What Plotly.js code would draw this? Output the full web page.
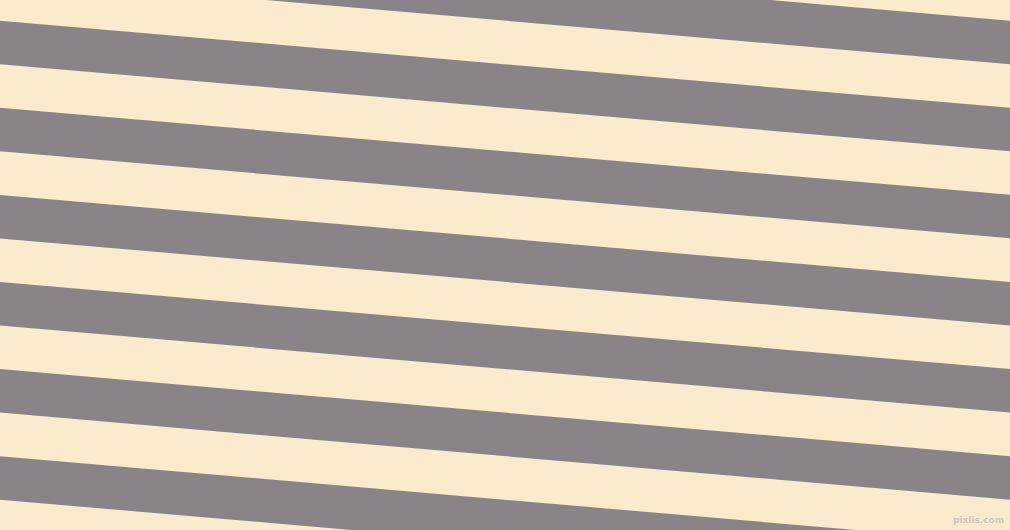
<!DOCTYPE html>
<html>
<head>
<meta charset="utf-8">
<script src="https://cdn.plot.ly/plotly-3.0.1.min.js"></script>
<style>
  html, body { margin: 0; padding: 0; background: #FAEBCC; }
  #chart { width: 1010px; height: 530px; }
</style>
</head>
<body>
<div id="chart"></div>
<script>
// Stripe data (pixel units of the 1010x530 canvas)
const stripeTopsAtLeft = [-66.4, 20.7, 107.8, 194.9, 282.0, 369.1, 456.2];
const stripeWidth = 43.5;
const stripeSlope = 0.0862;
const xExtent = [0, 1010];
const yExtent = [0, 530];
const stripeColor = '#8A8489';
const backColor = '#FAEBCC';
const watermark = 'pixlis.com';

const traces = stripeTopsAtLeft.map(function (t) {
  const x0 = xExtent[0], x1 = xExtent[1];
  const tR = t + stripeSlope * (x1 - x0);
  return {
    type: 'scatter',
    mode: 'lines',
    x: [x0, x1, x1, x0, x0],
    y: [t, tR, tR + stripeWidth, t + stripeWidth, t],
    fill: 'toself',
    fillcolor: stripeColor,
    line: { width: 0, color: stripeColor },
    hoverinfo: 'skip',
    showlegend: false
  };
});

const layout = {
  width: 1010,
  height: 530,
  margin: { l: 0, r: 0, t: 0, b: 0, pad: 0 },
  paper_bgcolor: backColor,
  plot_bgcolor: backColor,
  showlegend: false,
  xaxis: { range: xExtent, visible: false, fixedrange: true },
  yaxis: { range: [yExtent[1], yExtent[0]], visible: false, fixedrange: true },
  annotations: [{
    text: '<b>' + watermark + '</b>',
    xref: 'paper', yref: 'paper',
    x: 0.996, y: 0.006,
    xanchor: 'right', yanchor: 'bottom',
    showarrow: false,
    font: { family: 'DejaVu Sans', size: 9, color: '#CFC6B8' }
  }]
};

Plotly.newPlot('chart', traces, layout, { staticPlot: true, displayModeBar: false });
</script>
</body>
</html>
